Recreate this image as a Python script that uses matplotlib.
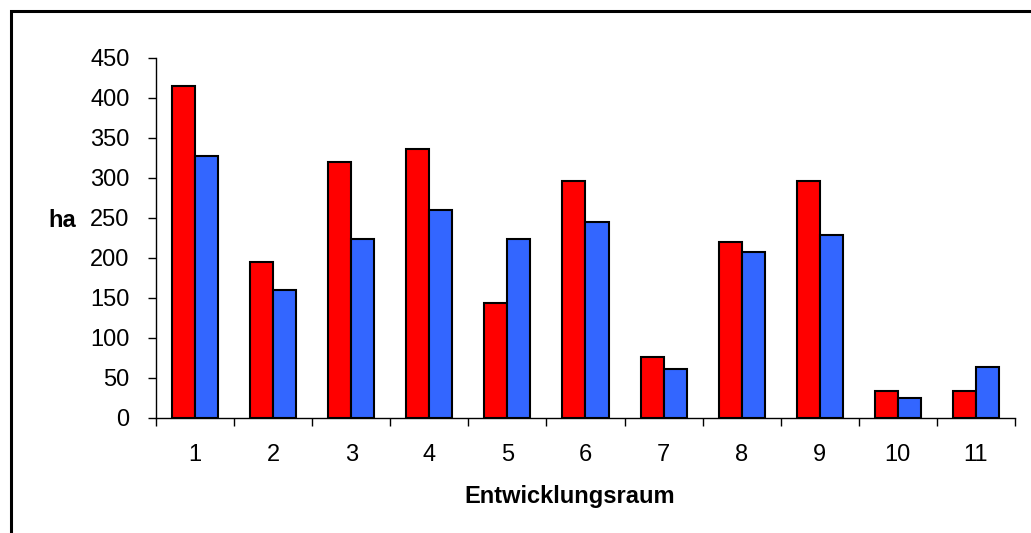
import matplotlib
matplotlib.use("Agg")
import matplotlib.pyplot as plt
from matplotlib.patches import Rectangle
import numpy as np

plt.rcParams['font.family'] = ['Liberation Sans', 'DejaVu Sans']

categories = ["1", "2", "3", "4", "5", "6", "7", "8", "9", "10", "11"]
series_red = [415, 195, 319, 336, 144, 296, 76, 220, 296, 34, 34]
series_blue = [327, 160, 224, 260, 224, 245, 61, 207, 229, 25, 64]
y_ticks = [0, 50, 100, 150, 200, 250, 300, 350, 400, 450]

W, H = 1031, 533
fig = plt.figure(figsize=(W / 100, H / 100), dpi=100)

# outer frame (runs off the right and bottom edges)
fig.patches.append(Rectangle((11 / W, -0.05), 1.1, 1 - 11 / H + 0.05,
                             transform=fig.transFigure, fill=False,
                             edgecolor='black', linewidth=2.2))

ax = fig.add_axes([156 / W, 1 - 418 / H, (1015 - 156) / W, (418 - 57.5) / H])

x = np.arange(len(categories))
bw = 0.295
ax.bar(x - bw / 2, series_red, bw, color='#FF0000', edgecolor='black', linewidth=1.5, zorder=3)
ax.bar(x + bw / 2, series_blue, bw, color='#3366FF', edgecolor='black', linewidth=1.5, zorder=3)

ax.set_xlim(-0.5, len(categories) - 0.5)
ax.set_ylim(0, 450)
ax.set_yticks(y_ticks)
ax.set_yticklabels([str(v) for v in y_ticks])

fs = 17
ax.set_xticks(x)
ax.set_xticklabels(categories)
ax.set_xticks(np.arange(len(categories) + 1) - 0.5, minor=True)
ax.tick_params(axis='x', which='major', length=0, pad=18.5, labelsize=fs)
ax.tick_params(axis='x', which='minor', length=6, width=1, direction='out')
ax.tick_params(axis='y', length=6, width=1, direction='out', pad=13, labelsize=fs)

for s in ['top', 'right']:
    ax.spines[s].set_visible(False)
for s in ['left', 'bottom']:
    ax.spines[s].set_linewidth(1)

ax.set_xlabel('Entwicklungsraum', fontsize=fs, fontweight='bold')
ax.xaxis.set_label_coords((570 - 156) / (1015 - 156), -(496 - 418) / (418 - 57.5))
ax.xaxis.label.set_va('center')
fig.text(62 / W, 1 - 221 / H, 'ha', fontsize=fs, fontweight='bold',
         ha='center', va='center')

fig.savefig('out.png', dpi=100)
